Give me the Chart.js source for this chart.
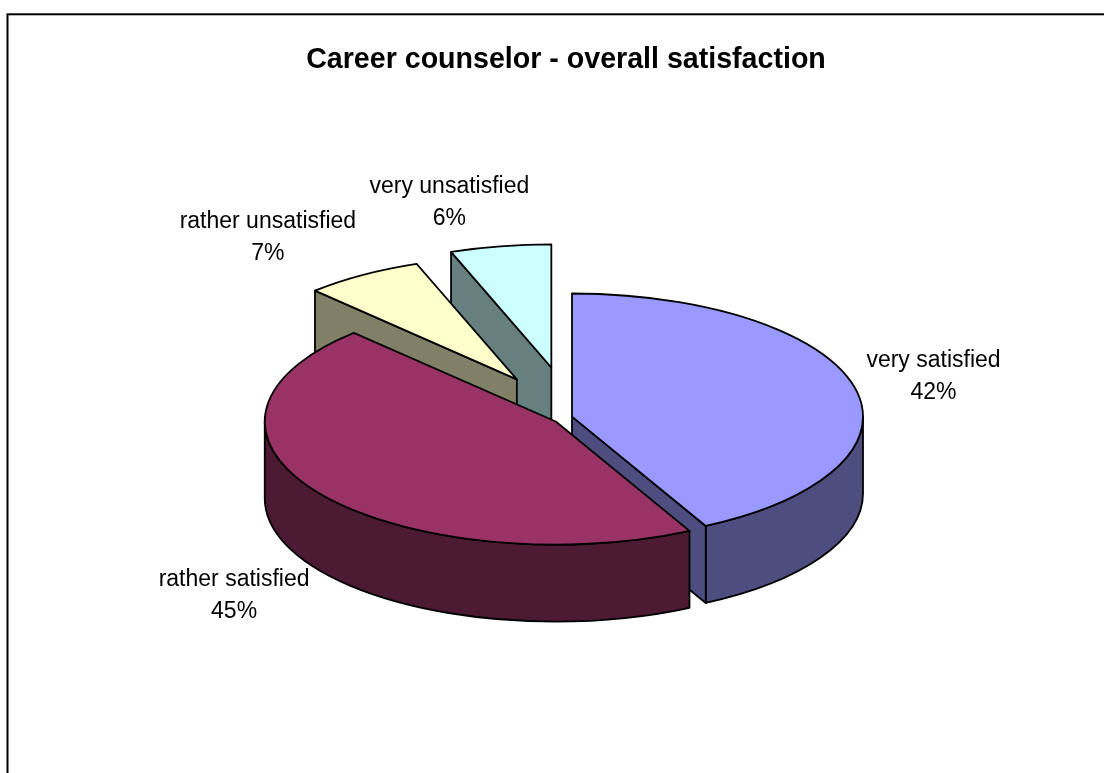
<!DOCTYPE html>
<html>
<head>
<meta charset="utf-8">
<script src="https://cdn.jsdelivr.net/npm/chart.js@4.4.1/dist/chart.umd.min.js"></script>
<style>
  html, body { margin: 0; padding: 0; background: #fff; overflow: hidden; }
  canvas { display: block; }
</style>
</head>
<body>
<canvas id="c" width="1132" height="800"></canvas>
<script>
// ---- data ----
const chartTitle = 'Career counselor - overall satisfaction';
const categories = ['very satisfied', 'rather satisfied', 'rather unsatisfied', 'very unsatisfied'];
const shares = [42.4, 45.4, 6.6, 5.6];

// ---- styles ----
const topColors = ['#9999FF', '#993366', '#FFFFCC', '#CCFFFF'];
const sideColors = ['#4D4D80', '#4D1A33', '#808066', '#668080'];
const explodeOffsets = [0, 20, 104, 118];

const FONT = '"Liberation Sans", Arial, sans-serif';
Chart.defaults.font.family = FONT;

const pie3d = {
  id: 'pie3d',
  beforeDraw(chart, args, opts) {
    const ctx = chart.ctx;
    ctx.save();
    ctx.strokeStyle = '#000';
    ctx.lineWidth = 2;
    ctx.strokeRect(7.5, 14.3, chart.width - 15, chart.height - 22);
    ctx.restore();
  },
  beforeDatasetsDraw(chart, args, opts) {
    const ctx = chart.ctx;
    const meta = chart.getDatasetMeta(0);
    const values = chart.data.datasets[0].data;
    const total = values.reduce((s, v) => s + v, 0);
    const k = opts.tilt, depth = opts.depth;
    const slices = meta.data.map((arc, i) => {
      const p = arc.getProps(['x', 'y', 'startAngle', 'endAngle', 'outerRadius']);
      const mid = (p.startAngle + p.endAngle) / 2;
      const off = arc.options.offset || 0;
      return {
        i,
        cx: p.x + off * Math.cos(mid),
        cy: p.y + off * Math.sin(mid) * k,
        rx: p.outerRadius,
        ry: p.outerRadius * k,
        a: p.startAngle,
        b: p.endAngle,
        mid,
        top: arc.options.backgroundColor,
        side: sideColors[i]
      };
    });

    ctx.save();
    ctx.lineWidth = opts.lineWidth;
    ctx.strokeStyle = '#000';
    ctx.lineJoin = 'round';

    // walls
    const walls = [];
    slices.forEach(s => {
      const st = Math.max(s.a, 0), en = Math.min(s.b, Math.PI);
      if (st < en) {
        const maxSin = (st <= Math.PI / 2 && en >= Math.PI / 2) ? 1 : Math.max(Math.sin(st), Math.sin(en));
        walls.push({key: s.cy + s.ry * maxSin, color: s.side, draw: () => {
          ctx.beginPath();
          ctx.ellipse(s.cx, s.cy, s.rx, s.ry, 0, st, en, false);
          ctx.ellipse(s.cx, s.cy + depth, s.rx, s.ry, 0, en, st, true);
          ctx.closePath();
        }});
      }
      const faceAt = (ang) => {
        const px = s.cx + s.rx * Math.cos(ang), py = s.cy + s.ry * Math.sin(ang);
        walls.push({key: Math.max(s.cy, py), color: s.side, draw: () => {
          ctx.beginPath();
          ctx.moveTo(s.cx, s.cy);
          ctx.lineTo(px, py);
          ctx.lineTo(px, py + depth);
          ctx.lineTo(s.cx, s.cy + depth);
          ctx.closePath();
        }});
      };
      if (Math.cos(s.a) < -1e-9) faceAt(s.a);
      if (Math.cos(s.b) > 1e-9) faceAt(s.b);
    });
    walls.sort((p, q) => p.key - q.key);
    walls.forEach(w => { w.draw(); ctx.fillStyle = w.color; ctx.fill(); ctx.stroke(); });

    // tops
    slices.slice().sort((p, q) => p.cy - q.cy).forEach(s => {
      ctx.beginPath();
      ctx.moveTo(s.cx, s.cy);
      ctx.ellipse(s.cx, s.cy, s.rx, s.ry, 0, s.a, s.b, false);
      ctx.closePath();
      ctx.fillStyle = s.top;
      ctx.fill();
      ctx.stroke();
    });

    // labels
    ctx.font = opts.labelFont;
    ctx.fillStyle = '#000';
    ctx.textAlign = 'center';
    ctx.textBaseline = 'middle';
    const lh = opts.labelLineHeight;
    slices.forEach(s => {
      const lines = [chart.data.labels[s.i], Math.round(values[s.i] / total * 100) + '%'];
      const w = Math.max(...lines.map(t => ctx.measureText(t).width));
      const hb = lh * lines.length;
      const c = Math.cos(s.mid), sn = Math.sin(s.mid);
      const rimX = s.cx + s.rx * c;
      const rimY = s.cy + s.ry * sn + (sn > 0 ? depth : 0);
      const g = opts.labelGap;
      const px = rimX + g * c, py = rimY + g * sn;
      const fx = Math.max(-1, Math.min(1, 3.5 * c));
      const centerX = px + w / 2 * fx;
      const centerY = py + hb / 2 * sn;
      lines.forEach((t, j) => {
        ctx.fillText(t, centerX, centerY + (j - (lines.length - 1) / 2) * lh);
      });
    });
    ctx.restore();
    return false;
  }
};

new Chart(document.getElementById('c'), {
  type: 'pie',
  data: {
    labels: categories,
    datasets: [{
      data: shares,
      backgroundColor: topColors,
      borderColor: '#000',
      borderWidth: 0,
      offset: explodeOffsets,
      radius: 291
    }]
  },
  options: {
    responsive: false,
    animation: false,
    devicePixelRatio: 1,
    radius: 291,
    layout: { padding: { top: 0, bottom: 44, left: 0, right: 0 } },
    plugins: {
      legend: {
        display: true,
        position: 'left',
        labels: { padding: 2, filter: () => false }
      },
      tooltip: { enabled: false },
      title: {
        display: true,
        text: chartTitle,
        color: '#000',
        font: { family: FONT, size: 28.6, weight: 'bold', lineHeight: 1.2 },
        padding: { top: 42.9, bottom: 0 }
      },
      pie3d: {
        tilt: 0.423,
        depth: 77,
        lineWidth: 1.8,
        labelFont: '23px ' + FONT,
        labelLineHeight: 32,
        labelGap: 12
      }
    }
  },
  plugins: [pie3d]
});
</script>
</body>
</html>
